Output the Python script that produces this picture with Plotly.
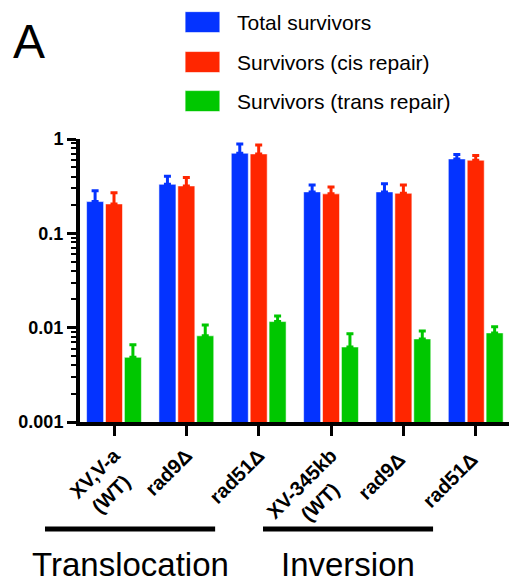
import plotly.graph_objects as go

NB = "\u00a0"
categories = ["XV,V-a<br>(WT)" + NB * 2, "rad9Δ", "rad51Δ",
              "XV-345kb<br>(WT)" + NB * 4, "rad9Δ ", "rad51Δ "]
series_names = ["Total survivors", "Survivors (cis repair)", "Survivors (trans repair)"]
total_mean = [0.217, 0.331, 0.707, 0.275, 0.275, 0.615]
total_top = [0.282, 0.403, 0.887, 0.326, 0.336, 0.684]
cis_mean = [0.205, 0.318, 0.695, 0.262, 0.266, 0.596]
cis_top = [0.270, 0.390, 0.865, 0.310, 0.326, 0.667]
trans_mean = [0.00485, 0.0082, 0.0116, 0.00624, 0.0076, 0.0088]
trans_top = [0.0066, 0.0107, 0.0133, 0.00864, 0.0092, 0.0102]
group_labels = ["Translocation", "Inversion"]
ytick_vals = [0.001, 0.01, 0.1, 1]
ytick_text = ["0.001", "0.01", "0.1", "1"]
yminor_vals = [d * 10 ** e for e in (-3, -2, -1) for d in range(2, 10)]

colors = ["#0433FF", "#FF2600", "#00C700"]
means = [total_mean, cis_mean, trans_mean]
tops = [total_top, cis_top, trans_top]
FONT = "Liberation Sans, Arial, sans-serif"

fig = go.Figure()
for name, m, t, c in zip(series_names, means, tops, colors):
    fig.add_trace(go.Bar(
        x=categories, y=m, name=name,
        marker=dict(color=c, line=dict(color="rgba(255,255,255,0.7)", width=0.8)),
        error_y=dict(type="data", symmetric=False,
                     array=[tt - mm for tt, mm in zip(t, m)],
                     arrayminus=[0] * len(m),
                     color=c, thickness=3, width=3.5),
        showlegend=False,
    ))

fig.update_layout(
    width=510, height=582,
    margin=dict(l=80, r=1, t=139, b=160, autoexpand=False),
    paper_bgcolor="white", plot_bgcolor="white",
    barmode="group", bargap=0.216, bargroupgap=0.1,
    font=dict(family=FONT, color="black"),
)
fig.update_xaxes(
    type="category", range=[-0.47, 5.46], automargin=False,
    showline=True, linecolor="black", linewidth=4,
    ticks="outside", ticklen=10, tickwidth=3, tickcolor="black",
    tickangle=-45, tickfont=dict(family=FONT, size=20, weight="bold", color="black"),
    showgrid=False, zeroline=False,
)
fig.update_yaxes(
    type="log", range=[-3, 0], automargin=False,
    tickvals=ytick_vals, ticktext=ytick_text,
    showline=True, linecolor="black", linewidth=4,
    ticks="outside", ticklen=9, tickwidth=3, tickcolor="black",
    tickfont=dict(family=FONT, size=18, weight="bold", color="black"),
    minor=dict(ticks="outside", ticklen=5, tickwidth=2, tickcolor="black",
               tickvals=yminor_vals, showgrid=False),
    showgrid=False, zeroline=False,
)

# custom legend
legend_y = [1.413, 1.272, 1.134]
for name, c, yy in zip(series_names, colors, legend_y):
    fig.add_shape(type="rect", xref="paper", yref="paper",
                  x0=0.245, x1=0.326, y0=yy - 0.037, y1=yy + 0.037,
                  fillcolor=c, line=dict(color="rgba(255,255,255,0.6)", width=1))
    fig.add_annotation(text=name, xref="paper", yref="paper", x=0.361, y=yy,
                       xanchor="left", yanchor="middle", showarrow=False,
                       font=dict(family=FONT, size=21, color="black"))

# panel letter
fig.add_annotation(text="A", xref="paper", yref="paper", x=-0.16, y=1.343,
                   xanchor="left", yanchor="middle", showarrow=False,
                   font=dict(family=FONT, size=48, color="black"))

# group bars and labels
group_x = [(-0.0816, 0.315), (0.4266, 0.823)]
for (x0, x1), lab in zip(group_x, group_labels):
    fig.add_shape(type="line", xref="paper", yref="paper",
                  x0=x0, x1=x1, y0=-0.378, y1=-0.378,
                  line=dict(color="black", width=5))
    fig.add_annotation(text=lab, xref="paper", yref="paper", x=(x0 + x1) / 2, y=-0.505,
                       xanchor="center", yanchor="middle", showarrow=False,
                       font=dict(family=FONT, size=33, color="black"))

fig.write_html("out.html", config={"displayModeBar": False},
               post_script="document.body.style.margin='0';")
